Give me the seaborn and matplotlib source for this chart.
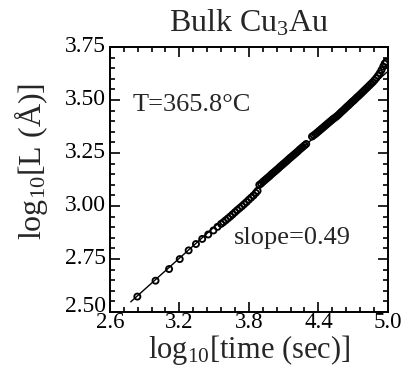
import matplotlib
matplotlib.use("Agg")
import matplotlib.pyplot as plt
from matplotlib.ticker import AutoMinorLocator
from matplotlib.transforms import ScaledTranslation
import pandas as pd
import seaborn as sns

# log10 of annealing time (s) and log10 of domain size L (Angstrom)
log_time = [
    2.837, 2.994, 3.111, 3.203, 3.280, 3.343, 3.397, 3.449, 3.494, 3.529, 3.560,
    3.580, 3.600, 3.620, 3.640, 3.660, 3.680, 3.700, 3.720, 3.740, 3.760, 3.780,
    3.800, 3.820, 3.840, 3.860, 3.875,
    3.890, 3.905, 3.920, 3.935, 3.950, 3.965, 3.980, 3.995, 4.010, 4.025, 4.040,
    4.055, 4.070, 4.085, 4.100, 4.115, 4.130, 4.145, 4.160, 4.175, 4.190, 4.205,
    4.220, 4.235, 4.250, 4.265, 4.280, 4.295,
    4.345, 4.360, 4.375, 4.390, 4.405, 4.420, 4.435, 4.450, 4.465, 4.480, 4.495,
    4.510, 4.525, 4.540, 4.555, 4.570, 4.585, 4.600, 4.615, 4.630, 4.645, 4.660,
    4.675, 4.690, 4.705, 4.720, 4.735, 4.750, 4.765, 4.780, 4.795, 4.810, 4.825,
    4.840, 4.855, 4.870, 4.885, 4.900, 4.915, 4.930, 4.945, 4.960, 4.972, 4.985,
]
log_L = [
    2.573, 2.648, 2.703, 2.750, 2.791, 2.821, 2.845, 2.866, 2.885, 2.902, 2.916,
    2.924, 2.933, 2.942, 2.951, 2.961, 2.971, 2.981, 2.990, 2.999, 3.009, 3.019,
    3.030, 3.040, 3.050, 3.062, 3.072,
    3.100, 3.106, 3.114, 3.121, 3.128, 3.135, 3.142, 3.150, 3.157, 3.164, 3.171,
    3.178, 3.186, 3.193, 3.200, 3.207, 3.214, 3.222, 3.229, 3.236, 3.243, 3.250,
    3.257, 3.265, 3.272, 3.279, 3.286, 3.293,
    3.328, 3.334, 3.340, 3.347, 3.354, 3.361, 3.368, 3.375, 3.382, 3.389, 3.396,
    3.403, 3.410, 3.416, 3.422, 3.429, 3.437, 3.445, 3.452, 3.460, 3.468, 3.475,
    3.483, 3.491, 3.498, 3.506, 3.514, 3.521, 3.529, 3.537, 3.545, 3.553, 3.561,
    3.569, 3.577, 3.585, 3.594, 3.604, 3.615, 3.627, 3.642, 3.658, 3.672, 3.680,
]

# power-law fit: log L = slope * log t + intercept
slope = 0.49
intercept = 1.186
fit_range = [2.78, 4.99]

x_ticks = [2.6, 3.2, 3.8, 4.4, 5.0]
y_ticks = [2.50, 2.75, 3.00, 3.25, 3.50, 3.75]

sns.set_style("ticks")
plt.rcParams["font.family"] = ["Liberation Serif", "DejaVu Serif"]
plt.rcParams["mathtext.fontset"] = "custom"
plt.rcParams["mathtext.rm"] = "Liberation Serif"
plt.rcParams["mathtext.it"] = "Liberation Serif"

fig = plt.figure(figsize=(4.07, 3.68), dpi=100)
ax = fig.add_axes([0.270, 0.152, 0.683, 0.720])

data = pd.DataFrame({"t": log_time, "L": log_L})
sns.scatterplot(data=data, x="t", y="L", ax=ax, marker="o", s=19,
                facecolor="none", edgecolor="black", linewidth=1.35, zorder=2)

fit = pd.DataFrame({"t": fit_range,
                    "L": [slope * v + intercept for v in fit_range]})
sns.lineplot(data=fit, x="t", y="L", ax=ax, color="black", linewidth=1.0,
             zorder=3)

ax.set_xlim(2.6, 5.0)
ax.set_ylim(2.50, 3.75)
ax.set_xticks(x_ticks)
ax.set_xticklabels([f"{v:.1f}" for v in x_ticks])
ax.set_yticks(y_ticks)
ax.set_yticklabels([f"{v:.2f}" for v in y_ticks])
ax.xaxis.set_minor_locator(AutoMinorLocator(5))
ax.yaxis.set_minor_locator(AutoMinorLocator(5))
ax.tick_params(which="both", direction="in", top=True, right=True,
               width=1.2, colors="black")
ax.tick_params(axis="y", which="major", length=7, labelsize=17, pad=3)
ax.tick_params(axis="x", which="major", length=7, labelsize=16.5, pad=0)
ax.tick_params(which="minor", length=3.5)
for sp in ax.spines.values():
    sp.set_linewidth(1.4)
    sp.set_color("black")

# nudge y tick labels upward; the lowest one more so it clears the x labels
for i, lab in enumerate(ax.get_yticklabels()):
    dy = 8 if i == 0 else 3
    lab.set_transform(lab.get_transform() +
                      ScaledTranslation(0, dy / 100, fig.dpi_scale_trans))

ax.set_xlabel(r"log$_{10}$[time (sec)]", fontsize=22, labelpad=0)
ax.set_ylabel("log$_{10}$[L (Å)]", fontsize=23)
ax.yaxis.set_label_coords(-0.215, 0.57)
ax.set_title("Bulk Cu$_3$Au", fontsize=23, pad=11)

ax.text(2.80, 3.476, "T=365.8°C", fontsize=19, va="center", ha="left")
ax.text(3.67, 2.849, "slope=0.49", fontsize=19, va="center", ha="left")

fig.savefig("out.png", dpi=100)
